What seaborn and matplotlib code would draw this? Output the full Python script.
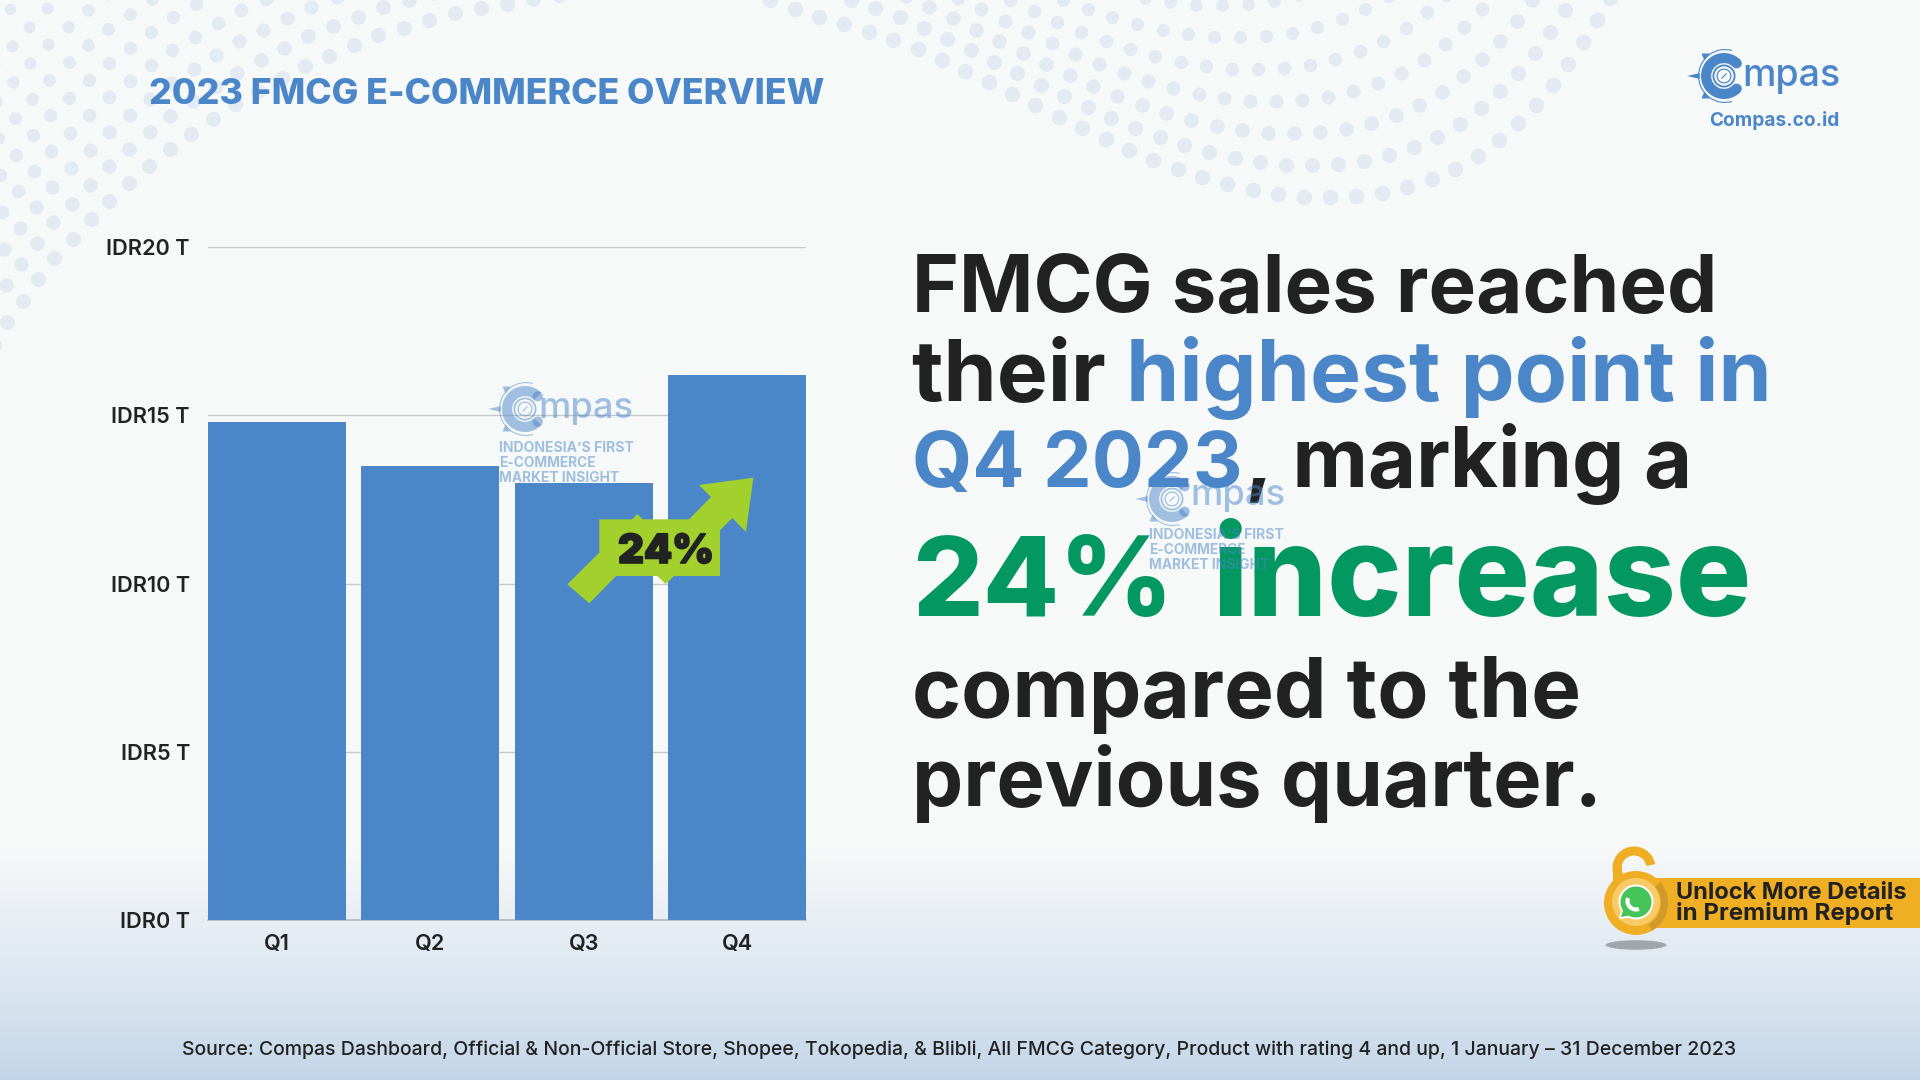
import numpy as np
import pandas as pd
import seaborn as sns
import matplotlib
matplotlib.use("Agg")
import matplotlib.pyplot as plt
import matplotlib.patheffects as pe
from matplotlib.patches import Circle, Wedge, Polygon, Rectangle, Ellipse, Arc

# ---------- data ----------
quarters = ["Q1", "Q2", "Q3", "Q4"]
sales_trillion = [14.8, 13.5, 13.0, 16.2]
y_ticks = [0, 5, 10, 15, 20]
y_tick_labels = ["IDR0 T", "IDR5 T", "IDR10 T", "IDR15 T", "IDR20 T"]

title_text = "2023 FMCG E-COMMERCE OVERVIEW"
source_text = ("Source: Compas Dashboard, Official & Non-Official Store, Shopee, Tokopedia, & Blibli, "
               "All FMCG Category, Product with rating 4 and up, 1 January \u2013 31 December 2023")
growth_label = "24%"

BLUE = "#4b87c8"
DARK = "#222222"
GREEN = "#039762"
LIME = "#a2d02c"
GOLD = "#efae24"
DOT = "#e3eaf1"
FONT = "Inter"

sns.set_theme(style="white")
plt.rcParams["font.family"] = [FONT, "DejaVu Sans"]

fig = plt.figure(figsize=(19.2, 10.8), dpi=100)
W, H = 1920, 1080


def px_axes(z):
    a = fig.add_axes([0, 0, 1, 1], zorder=z)
    a.set_xlim(0, W)
    a.set_ylim(H, 0)
    a.axis("off")
    a.patch.set_alpha(0)
    return a


bg = px_axes(0)
fg = px_axes(2)

# ---------- background ----------
stops_y = [0, 840, 920, 1000, 1080]
stops_rgb = np.array([[247, 249, 249], [248, 250, 249], [233, 238, 245],
                      [216, 228, 239], [195, 213, 233]]) / 255
ys = np.arange(H)
grad = np.stack([np.interp(ys, stops_y, stops_rgb[:, i]) for i in range(3)], axis=1)[:, None, :]
bg.imshow(grad, extent=[0, W, H, 0], aspect="auto", zorder=0)
bg.set_xlim(0, W)
bg.set_ylim(H, 0)


def resample(points, step):
    p = np.array(points, float)
    seg = np.hypot(*np.diff(p, axis=0).T)
    s = np.r_[0, np.cumsum(seg)]
    t = np.arange(0, s[-1], step)
    return np.interp(t, s, p[:, 0]), np.interp(t, s, p[:, 1])


arc_left = [(-6, 345), (4, 327), (50, 263), (104, 205), (165, 152), (230, 107), (300, 68),
            (373, 37), (449, 14), (528, 0), (610, -12)]
arc_top = [(770, 0), (819, 17), (870, 32), (920, 50), (968, 72), (1016, 96), (1063, 119),
           (1112, 142), (1160, 163), (1211, 180), (1262, 192), (1316, 198), (1369, 196),
           (1420, 184), (1469, 163), (1511, 131), (1548, 92), (1579, 49), (1606, 5), (1615, -10)]
for k in range(11):
    xs, yy = resample(arc_left, 26.5)
    bg.scatter(xs + k * (-2 + 0.017 * xs), yy + k * (-37 + 0.024 * xs),
               s=(15 - 0.45 * k) ** 2 * 0.52, color=DOT, lw=0, zorder=1)
for k in range(7):
    xs, yy = resample(arc_top, 26.0)
    bg.scatter(xs - 18 * k, yy - 32 * k, s=(15.5 - 0.5 * k) ** 2 * 0.52, color=DOT, lw=0, zorder=1)

# ---------- chart ----------
ax = fig.add_axes([208 / W, 1 - 920 / H, (806 - 208) / W, (920 - 247) / H], zorder=1)
ax.patch.set_alpha(0)
df = pd.DataFrame({"quarter": quarters, "sales": sales_trillion})
sns.barplot(data=df, x="quarter", y="sales", color=BLUE, saturation=1, width=0.9, ax=ax,
            zorder=3, linewidth=0)
ax.set_xlim(-0.45, 3.45)
ax.set_ylim(0, 20)
ax.set_yticks(y_ticks)
ax.set_yticklabels(y_tick_labels)
ax.set_xlabel("")
ax.set_ylabel("")
ax.grid(axis="y", color="#c6c9cb", lw=1.0, zorder=0)
ax.set_axisbelow(True)
for s in ["top", "left", "right"]:
    ax.spines[s].set_visible(False)
ax.spines["bottom"].set_color("#b4b9be")
ax.spines["bottom"].set_linewidth(1.2)
ax.tick_params(axis="both", length=0, labelsize=15.6, labelcolor=DARK)
ax.tick_params(axis="y", pad=13)
ax.tick_params(axis="x", pad=10)
for t in ax.get_xticklabels() + ax.get_yticklabels():
    t.set_fontweight(600)

# ---------- text helpers ----------
fig.canvas.draw()
rend = fig.canvas.get_renderer()


def width_of(s, size, weight):
    t = fg.text(0, 0, s, fontsize=size, fontweight=weight)
    w = t.get_window_extent(rend).width
    t.remove()
    return w


def fit_runs(x, base, runs, target, weight="bold", **kw):
    full = "".join(r[0] for r in runs)
    size = 40 * target / width_of(full, 40, weight)
    dot = width_of(".", size, weight)
    prefix = ""
    out = []
    for s, c in runs:
        off = width_of(prefix + ".", size, weight) - dot if prefix else 0
        out.append(fg.text(x + off, base, s, color=c, fontsize=size, fontweight=weight,
                           va="baseline", **kw))
        prefix += s
    return out


# ---------- header ----------
fit_runs(149, 104, [(title_text, BLUE)], 675, weight=800)

# ---------- headline ----------
fit_runs(912, 312, [("FMCG sales reached", DARK)], 806)
fit_runs(912, 401, [("their ", DARK), ("highest point in", BLUE)], 861)
fit_runs(912, 487, [("Q4 2023", BLUE)], 331)
fit_runs(1245, 487, [(", marking a", DARK)], 448)
fit_runs(912, 616, [("24%", GREEN)], 261, weight=800)
fit_runs(1212, 616, [("increase", GREEN)], 540, weight=800)
fit_runs(912, 717, [("compared to the", DARK)], 670)
fit_runs(912, 806, [("previous quarter.", DARK)], 690)

# ---------- source ----------
fit_runs(182, 1055, [(source_text, DARK)], 1556, weight=500)


# ---------- logo ----------
def logo(a, cx, cy, r, alpha, mx0, mx1, base):
    kw = dict(color=BLUE, alpha=alpha, lw=0)
    a.add_patch(Wedge((cx, cy), r, 45, 315, width=r * 0.44, **kw))
    for ang in (45, 315):
        ex = cx + r * 0.78 * np.cos(np.radians(ang))
        ey = cy + r * 0.78 * np.sin(np.radians(ang))
        a.add_patch(Circle((ex, ey), r * 0.22, **kw))
    a.add_patch(Arc((cx + 1, cy), r * 2.3, r * 2.3, theta1=75, theta2=285, color=BLUE, alpha=alpha, lw=0.8))
    a.add_patch(Polygon([(cx - 1.6 * r, cy), (cx - 1.05 * r, cy - 0.13 * r), (cx - 1.05 * r, cy + 0.13 * r)], **kw))
    for sgn in (-1, 1):
        a.add_patch(Polygon([(cx - 0.98 * r, cy + sgn * 0.98 * r), (cx - 0.62 * r, cy + sgn * 0.98 * r),
                             (cx - 0.85 * r, cy + sgn * 0.68 * r)], **kw))
    for rr, lw in ((0.46, 1.3), (0.3, 0.9)):
        a.add_patch(Circle((cx, cy), r * rr, fc="none", ec=BLUE, alpha=alpha, lw=lw))
    a.plot([cx - 0.1 * r, cx + 0.1 * r], [cy + 0.1 * r, cy - 0.1 * r], color=BLUE, alpha=alpha, lw=0.8)
    size = 40 * (mx1 - mx0) / width_of("mpas", 40, 500)
    a.text(mx0, base, "mpas", color=BLUE, alpha=alpha, fontsize=size, fontweight=500, va="baseline")


logo(fg, 1724, 76, 23, 1.0, 1742, 1840, 86)
fit_runs(1709, 126, [("Compas.co.id", BLUE)], 130)


def watermark(cx, cy, mx0, base, tx, bases):
    logo(fg, cx, cy, 23, 0.5, mx0, mx0 + 95, base)
    widths = [135, 97, 120]
    lines = ["INDONESIA\u2019S FIRST", "E-COMMERCE", "MARKET INSIGHT"]
    for s, b, w in zip(lines, bases, widths):
        size = 40 * w / width_of(s, 40, "bold")
        fg.text(tx, b, s, color=BLUE, alpha=0.5, fontsize=size, fontweight="bold", va="baseline")


watermark(525, 409, 538, 418, 499, [452, 467, 482])
watermark(1172, 499, 1190, 505, 1149, [539, 554, 569])

# ---------- growth arrow ----------
arrow = [(328, 700), (262, 643), (358, 548), (358, 448), (456, 448), (472, 432), (488, 448), (627, 448),
         (693, 381), (657, 345), (820, 323), (798, 486), (757, 444), (720, 481), (720, 618), (582, 618),
         (557, 642), (532, 618), (408, 618)]
fg.add_patch(Polygon([(480 + x / 3, 370 + y / 3) for x, y in arrow], color=LIME, lw=0))
for t in fit_runs(618, 563, [(growth_label, DARK)], 96, weight=900):
    t.set_path_effects([pe.withStroke(linewidth=1.2, foreground=DARK)])

# ---------- premium badge ----------
fg.add_patch(Ellipse((1636, 945), 61, 9.5, color="#a1a6aa", lw=0))
fg.add_patch(Rectangle((1650, 878), 270, 50, color=GOLD, lw=0))
fg.add_patch(Arc((1634, 868), 34, 34, theta1=140, theta2=350, color=GOLD, lw=6.5))
fg.add_patch(Rectangle((1613, 866), 9, 22, color=GOLD, lw=0))
fg.add_patch(Circle((1636, 903), 32, color=GOLD, lw=0))
fg.add_patch(Wedge((1636, 903), 32, 320, 60, width=7, color="#cf9a2a", lw=0))
fg.add_patch(Circle((1636, 902), 24, color="#f8cb66", lw=0))
fg.add_patch(Polygon([(1619, 919), (1623, 905), (1634, 917)], color="white", lw=0))
fg.add_patch(Circle((1636, 902), 17.5, color="white", lw=0))
fg.add_patch(Polygon([(1621, 917), (1624, 907), (1632, 915)], color="#45c45a", lw=0))
fg.add_patch(Circle((1636, 902), 15.5, color="#45c45a", lw=0))
fg.add_patch(Arc((1636, 901), 17, 17, theta1=70, theta2=200, color="white", lw=3.0))
fit_runs(1676, 899, [("Unlock More Details", DARK)], 231)
fit_runs(1676, 920, [("in Premium Report", DARK)], 217)

fig.savefig("out.png", dpi=100)
